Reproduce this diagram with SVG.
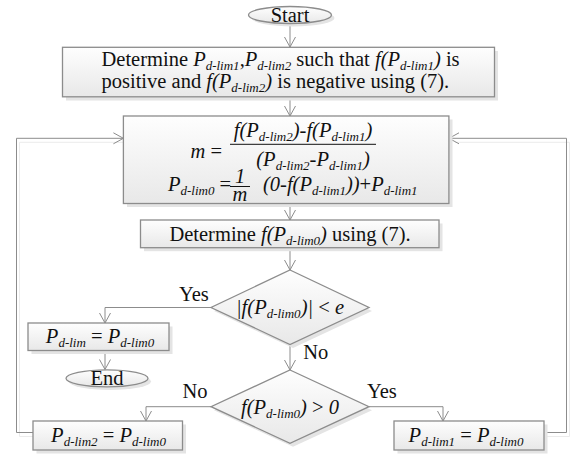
<svg xmlns="http://www.w3.org/2000/svg" width="572" height="457" viewBox="0 0 572 457">
<defs>
<linearGradient id="g" x1="0" y1="0" x2="0" y2="1">
<stop offset="0" stop-color="#fefefe"/>
<stop offset="1" stop-color="#e8e8e8"/>
</linearGradient>
<marker id="arr" markerUnits="userSpaceOnUse" viewBox="-11 -7 12 14" markerWidth="12" markerHeight="14" refX="0" refY="0" orient="auto">
<path d="M-10,-5.5 L0,0 L-10,5.5" fill="none" stroke="#8c8c8c" stroke-width="1"/>
</marker>
<style>
.shape{fill:url(#g);stroke:#8c8c8c;stroke-width:1.3}
.shadow{fill:#e4e4e4;stroke:none}
.conn path{fill:none;stroke:#8c8c8c;stroke-width:1}
.csh path{fill:none;stroke:#ebebeb;stroke-width:1}
text{font-family:'Liberation Serif','Times New Roman','DejaVu Serif',serif;font-size:20.5px;fill:#111}
.i{font-style:italic}
.s{font-size:13px;font-style:italic}
.bar{stroke:#111;stroke-width:1}
</style>
</defs>
<rect width="572" height="457" fill="#ffffff"/>

<g class="csh" transform="translate(3,4)">
<path d="M33,432.5 H16.5 V138.3 H120"/>
<path d="M544,432.5 H566.5 V138.3 H452"/>
</g>

<g id="connectors" class="conn">
<path d="M290,24 V47" marker-end="url(#arr)"/>
<path d="M290,97 V116" marker-end="url(#arr)"/>
<path d="M290,203.5 V220" marker-end="url(#arr)"/>
<path d="M290,248 V270" marker-end="url(#arr)"/>
<path d="M290,344.5 V370" marker-end="url(#arr)"/>
<path d="M211,307.5 H105 V323" marker-end="url(#arr)"/>
<path d="M105,350.5 V369.5" marker-end="url(#arr)"/>
<path d="M211,406.7 H146 V421" marker-end="url(#arr)"/>
<path d="M369,406.7 H443 V421" marker-end="url(#arr)"/>
<path d="M33,432.5 H16.5 V138.3 H123.4" marker-end="url(#arr)"/>
<path d="M544,432.5 H566.5 V138.3 H449" marker-end="url(#arr)"/>
</g>

<g id="start">
<ellipse class="shadow" cx="293" cy="18" rx="41.5" ry="8.5"/>
<ellipse class="shape" cx="290" cy="15" rx="41.5" ry="8.5"/>
<text x="290" y="21.5" text-anchor="middle">Start</text>
</g>

<g id="init">
<rect class="shadow" x="66" y="51" width="432" height="49.5"/>
<rect class="shape" x="62.5" y="47.3" width="432" height="49.5"/>
<text x="101.5" y="65.7">Determine <tspan class="i">P</tspan><tspan class="s" dy="4">d-lim1</tspan><tspan dy="-4">,</tspan><tspan class="i">P</tspan><tspan class="s" dy="4">d-lim2</tspan><tspan dy="-4"> such that </tspan><tspan class="i">f(P</tspan><tspan class="s" dy="4">d-lim1</tspan><tspan class="i" dy="-4">)</tspan> is</text>
<text x="101.5" y="87.5">positive and <tspan class="i">f(P</tspan><tspan class="s" dy="4">d-lim2</tspan><tspan class="i" dy="-4">)</tspan> is negative using (7).</text>
</g>

<g id="secant">
<rect class="shadow" x="127" y="119.5" width="325.5" height="87.5"/>
<rect class="shape" x="123.4" y="116" width="325.5" height="87.5"/>
<text x="190.5" y="158"><tspan class="i">m</tspan> =</text>
<text x="303" y="137" text-anchor="middle"><tspan class="i">f(P</tspan><tspan class="s" dy="4">d-lim2</tspan><tspan class="i" dy="-4">)-f(P</tspan><tspan class="s" dy="4">d-lim1</tspan><tspan class="i" dy="-4">)</tspan></text>
<line class="bar" x1="230" y1="144.3" x2="376" y2="144.3"/>
<text x="313" y="165.5" text-anchor="middle"><tspan class="i">(P</tspan><tspan class="s" dy="4">d-lim2</tspan><tspan class="i" dy="-4">-P</tspan><tspan class="s" dy="4">d-lim1</tspan><tspan class="i" dy="-4">)</tspan></text>
<text x="168" y="191"><tspan class="i">P</tspan><tspan class="s" dy="4">d-lim0</tspan><tspan dy="-4"> =</tspan></text>
<text x="240" y="183" text-anchor="middle" class="i">1</text>
<line class="bar" x1="230" y1="186.5" x2="250" y2="186.5"/>
<text x="240" y="200.5" text-anchor="middle" class="i">m</text>
<text x="263" y="191"><tspan class="i">(0-f(P</tspan><tspan class="s" dy="4">d-lim1</tspan><tspan class="i" dy="-4">))</tspan>+<tspan class="i">P</tspan><tspan class="s" dy="4">d-lim1</tspan></text>
</g>

<g id="evaluate">
<rect class="shadow" x="144" y="223.5" width="298.5" height="27.7"/>
<rect class="shape" x="140.5" y="220" width="298.5" height="27.7"/>
<text x="290" y="240.5" text-anchor="middle">Determine <tspan class="i">f(P</tspan><tspan class="s" dy="4">d-lim0</tspan><tspan class="i" dy="-4">)</tspan> using (7).</text>
</g>

<g id="check-tol">
<polygon class="shadow" points="293,273.5 372,311 293,348 214,311"/>
<polygon class="shape" points="290,270 369,307.5 290,344.5 211,307.5"/>
<text x="290" y="314" text-anchor="middle"><tspan class="i">|f(P</tspan><tspan class="s" dy="4">d-lim0</tspan><tspan class="i" dy="-4">)|</tspan> &lt; <tspan class="i">e</tspan></text>
</g>

<g id="assign-result">
<rect class="shadow" x="31.5" y="326.5" width="141" height="27.5"/>
<rect class="shape" x="28" y="323" width="141" height="27.5"/>
<text x="100" y="342.5" text-anchor="middle"><tspan class="i">P</tspan><tspan class="s" dy="4">d-lim</tspan><tspan dy="-4"> = </tspan><tspan class="i">P</tspan><tspan class="s" dy="4">d-lim0</tspan></text>
</g>

<g id="end">
<ellipse class="shadow" cx="110" cy="381.5" rx="41" ry="8.5"/>
<ellipse class="shape" cx="107" cy="378.3" rx="41" ry="8.5"/>
<text x="107" y="384.5" text-anchor="middle" font-size="22">End</text>
</g>

<g id="check-sign">
<polygon class="shadow" points="293,373.5 372,410.2 293,446.8 214,410.2"/>
<polygon class="shape" points="290,370 369,406.7 290,443.3 211,406.7"/>
<text x="290" y="413.5" text-anchor="middle"><tspan class="i">f(P</tspan><tspan class="s" dy="4">d-lim0</tspan><tspan class="i" dy="-4">)</tspan> &gt; <tspan class="i">0</tspan></text>
</g>

<g id="set-lim2">
<rect class="shadow" x="36.5" y="424.5" width="149.5" height="29"/>
<rect class="shape" x="33" y="421" width="149.5" height="29"/>
<text x="108.5" y="441.5" text-anchor="middle"><tspan class="i">P</tspan><tspan class="s" dy="4">d-lim2</tspan><tspan dy="-4"> = </tspan><tspan class="i">P</tspan><tspan class="s" dy="4">d-lim0</tspan></text>
</g>

<g id="set-lim1">
<rect class="shadow" x="397.5" y="424.5" width="150" height="29"/>
<rect class="shape" x="394" y="421" width="150" height="29"/>
<text x="466" y="441.5" text-anchor="middle"><tspan class="i">P</tspan><tspan class="s" dy="4">d-lim1</tspan><tspan dy="-4"> = </tspan><tspan class="i">P</tspan><tspan class="s" dy="4">d-lim0</tspan></text>
</g>

<g id="labels">
<text x="179" y="300.7">Yes</text>
<text x="303.3" y="358.5">No</text>
<text x="182.5" y="398.3">No</text>
<text x="367" y="398.3">Yes</text>
</g>
</svg>
